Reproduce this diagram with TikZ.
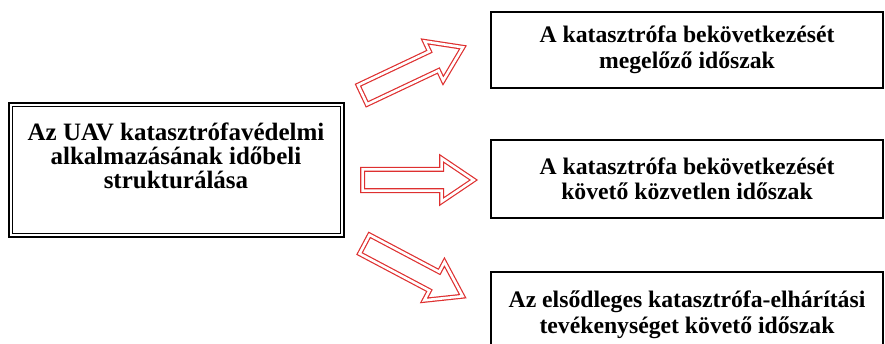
\documentclass[tikz,border=0pt]{standalone}
\usepackage{fontspec}
\setmainfont{Liberation Serif}
\usetikzlibrary{shapes.arrows}
\definecolor{arrred}{RGB}{222,48,48}
\begin{document}
\begin{tikzpicture}[x=1pt,y=-1pt,
  box/.style={draw=black, line width=2.3pt, inner sep=0pt, minimum width=392pt},
  txt/.style={font=\fontsize{23.7}{25.5}\selectfont\bfseries, align=center, inner sep=0pt},
  ltxt/.style={font=\fontsize{25}{24}\selectfont\bfseries, align=center, inner sep=0pt},
  blockarrow/.style={single arrow, draw=arrred, double=white, double distance=2.6pt,
    line width=1.2pt, minimum height=111pt, minimum width=0pt,
    single arrow head extend=11pt, single arrow tip angle=68,
    inner sep=0pt, text height=10pt, text depth=10pt, text width=0pt, anchor=tail}
]
\clip (0,0) rectangle (885,344);
\useasboundingbox (0,0) rectangle (885,344);
% left double box
\node[draw=black, line width=1.8pt, minimum width=335pt, minimum height=134pt, inner sep=0pt] (L) at (176.5,170) {};
\draw[line width=0.9pt] ([shift={(4,4)}]L.north west) rectangle ([shift={(-4,-4)}]L.south east);
\node[ltxt] (Lt) at (176,156) {Az UAV katasztrófavédelmi\\alkalmazásának időbeli\\strukturálása};
% right boxes
\node[box, minimum height=76pt, txt] (B1) at (687,50) {A katasztrófa bekövetkezését\\megelőző időszak};
\node[box, minimum height=78pt, txt] (B2) at (687,179) {A katasztrófa bekövetkezését\\követő közvetlen időszak};
\node[box, minimum height=84pt] (B3) at (687,314) {};
\node[txt] (B3t) at (687,315) {Az elsődleges katasztrófa-elhárítási\\tevékenységet követő időszak};
% arrows
\coordinate (T1) at (362,95);
\coordinate (T2) at (362,180);
\coordinate (T3) at (364,244);
\node[blockarrow, rotate=25.3] (A1) at (T1) {};
\node[blockarrow] (A2) at (T2) {};
\node[blockarrow, rotate=-27.9] (A3) at (T3) {};
\end{tikzpicture}
\end{document}
